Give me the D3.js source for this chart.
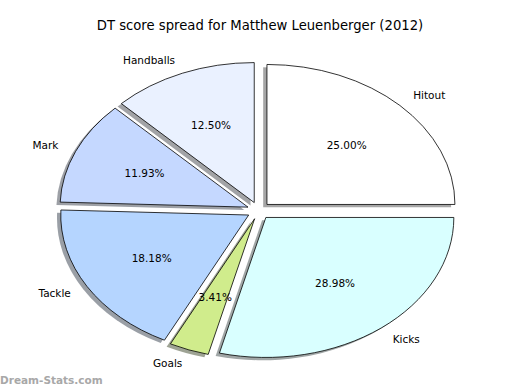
<!DOCTYPE html>
<html>
<head>
<meta charset="utf-8">
<script src="https://cdn.jsdelivr.net/npm/d3@7"></script>
<style>
  html, body { margin: 0; padding: 0; background: #fff; }
  svg { display: block; }
  text { font-family: "DejaVu Sans", sans-serif; fill: #000; }
</style>
</head>
<body>
<svg id="chart" width="520" height="390"></svg>
<script>
const categories = ["Hitout", "Kicks", "Goals", "Tackle", "Mark", "Handballs"];
const values = [25.00, 28.98, 3.41, 18.18, 11.93, 12.50];
const colors = ["#ffffff", "#d9ffff", "#d0ec8c", "#b5d5ff", "#c5d8ff", "#eaf1ff"];
const title = "DT score spread for Matthew Leuenberger (2012)";
const watermark = "Dream-Stats.com";

const W = 520, H = 390;
const cx = 258.7, cy = 210.6, rx = 188, ry = 140;
const explode = 0.062;

const svg = d3.select("#chart");

const data = categories.map((c, i) => ({ name: c, value: values[i], color: colors[i] }));
const pie = d3.pie().value(d => d.value).sort(null).startAngle(0).endAngle(2 * Math.PI);
const arcs = pie(data);
const arc = d3.arc().innerRadius(0).outerRadius(1);

const sx = d3.scaleLinear().domain([-1, 1]).range([-rx, rx]);
const sy = d3.scaleLinear().domain([-1, 1]).range([-ry, ry]);

function apex(a) {
  const m = (a.startAngle + a.endAngle) / 2;
  return [cx + sx(explode * Math.sin(m)), cy + sy(-explode * Math.cos(m))];
}

function darken(hex) {
  const c = d3.rgb(hex);
  return d3.rgb(c.r * 0.3, c.g * 0.3, c.b * 0.3).toString();
}

// shadows
const shadowG = svg.append("g");
arcs.forEach(a => {
  const [ax, ay] = apex(a);
  shadowG.append("path")
    .attr("d", arc(a))
    .attr("transform", `translate(${ax + sx(-0.02)},${ay + sy(0.02)}) scale(${rx},${ry})`)
    .attr("fill", darken(a.data.color))
    .attr("fill-opacity", 0.5)
    .attr("stroke", "none");
});

// wedges
const wedgeG = svg.append("g");
arcs.forEach(a => {
  const [ax, ay] = apex(a);
  wedgeG.append("path")
    .attr("d", arc(a))
    .attr("transform", `translate(${ax},${ay}) scale(${rx},${ry})`)
    .attr("fill", a.data.color)
    .attr("stroke", "#000")
    .attr("stroke-width", 0.8)
    .attr("stroke-linejoin", "miter")
    .attr("vector-effect", "non-scaling-stroke");
});

// labels
arcs.forEach(a => {
  const [ax, ay] = apex(a);
  const m = (a.startAngle + a.endAngle) / 2;
  const lx = ax + sx(1.1 * Math.sin(m));
  const ly = ay + sy(-1.1 * Math.cos(m));
  svg.append("text")
    .attr("x", lx).attr("y", ly)
    .attr("dy", "0.35em")
    .attr("text-anchor", Math.sin(m) >= 0 ? "start" : "end")
    .attr("font-size", 10.5)
    .text(a.data.name);
  const px = ax + sx(0.6 * Math.sin(m));
  const py = ay + sy(-0.6 * Math.cos(m));
  svg.append("text")
    .attr("x", px).attr("y", py)
    .attr("dy", "0.35em")
    .attr("text-anchor", "middle")
    .attr("font-size", 10.5)
    .text(d3.format(".2f")(a.data.value) + "%");
});

svg.append("text")
  .attr("x", 260).attr("y", 30)
  .attr("text-anchor", "middle")
  .attr("font-size", 13.2)
  .text(title);

svg.append("text")
  .attr("x", 0).attr("y", 384)
  .attr("font-size", 10.5)
  .attr("font-weight", "bold")
  .style("fill", "#a8a8a8")
  .text(watermark);
</script>
</body>
</html>
